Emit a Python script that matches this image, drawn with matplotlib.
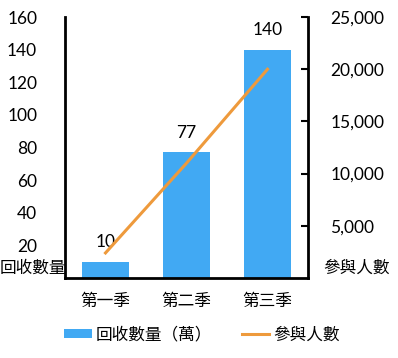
import matplotlib.pyplot as plt
from matplotlib.lines import Line2D
from matplotlib.patches import Patch

# 資料
seasons = ['第一季', '第二季', '第三季']
recycled = [10, 77, 140]          # 回收數量（萬）
participants = [2400, 11000, 20000]  # 參與人數

left_ticks = [20, 40, 60, 80, 100, 120, 140, 160]
right_ticks = [5000, 10000, 15000, 20000, 25000]

cjk = ['Noto Sans CJK TC', 'DejaVu Sans']
num_font = ['Lato', 'DejaVu Sans']
blue = '#41A9F3'
orange = '#EE9A3C'

fig = plt.figure(figsize=(3.98, 3.58), dpi=100)
ax = fig.add_axes([0.1633, 0.2235, 0.6106, 0.729])
x = range(len(seasons))

bars = ax.bar(x, recycled, width=0.58, color=blue, zorder=2)
for xi, v in zip(x, recycled):
    ax.text(xi, v + 7, str(v), ha='center', va='bottom', fontsize=12.5,
            family=num_font)

ax.set_xlim(-0.5, 2.5)
ax.set_ylim(0, 160)
ax.set_yticks(left_ticks)
ax.set_yticklabels([str(t) for t in left_ticks], family=num_font, fontsize=12.5)
ax.tick_params(axis='y', length=0, pad=20)
ax.set_xticks(list(x))
ax.set_xticklabels(seasons, family=cjk, fontsize=12)
ax.tick_params(axis='x', length=0, pad=11)
for s in ['top', 'right']:
    ax.spines[s].set_visible(False)
for s in ['left', 'bottom']:
    ax.spines[s].set_linewidth(2)

ax2 = ax.twinx()
ax2.plot(x, participants, color=orange, linewidth=2.2, zorder=3)
ax2.set_ylim(0, 25000)
ax2.set_yticks(right_ticks)
ax2.set_yticklabels([f'{t:,}' for t in right_ticks], family=num_font,
                    fontsize=12.5)
ax2.tick_params(axis='y', direction='in', length=5, width=1.5, pad=16)
for s in ['top', 'left', 'bottom']:
    ax2.spines[s].set_visible(False)
ax2.spines['right'].set_linewidth(2)

fig.text(0.0, 1 - 268 / 358, '回收數量', ha='left', va='center',
         family=cjk, fontsize=12)
fig.text(323 / 398, 1 - 268 / 358, '參與人數', ha='left', va='center',
         family=cjk, fontsize=12)

handles = [Patch(facecolor=blue, edgecolor='none'),
           Line2D([0], [0], color=orange, linewidth=2.2)]
fig.legend(handles, ['回收數量（萬）', '參與人數'], loc='center',
           bbox_to_anchor=(202 / 398, 1 - 335 / 358), ncol=2, frameon=False,
           prop={'family': cjk, 'size': 12}, handlelength=1.65,
           handleheight=0.45, columnspacing=1.75, handletextpad=0.25)

fig.savefig('out.png', dpi=100)
